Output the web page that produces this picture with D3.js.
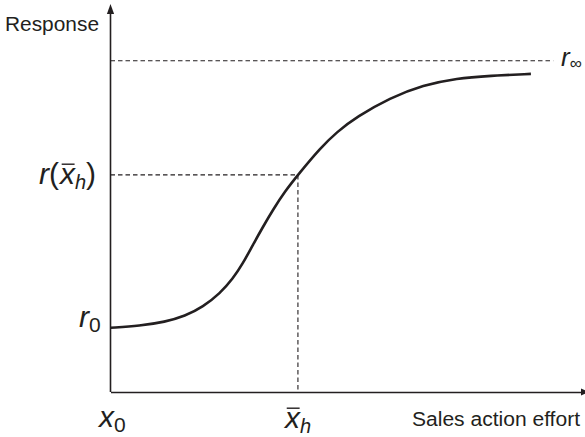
<!DOCTYPE html>
<html>
<head>
<meta charset="utf-8">
<script src="https://cdn.jsdelivr.net/npm/d3@7"></script>
<style>
  html, body { margin: 0; padding: 0; background: #fff; }
  svg { display: block; }
  text { font-family: "Liberation Sans", Arial, Helvetica, sans-serif; fill: #231f20; }
</style>
</head>
<body>
<svg id="chart" width="585" height="437"></svg>
<script>
// ---- data ----
const effort   = [0, 0.62, 1.15, 1.57, 1.95, 2.31, 2.58, 2.79, 3.00, 3.21, 3.42, 3.68, 3.95, 4.42, 4.77, 5.19, 5.89, 6.59, 7.30, 8.00, 8.86];
const response = [1.66, 1.71, 1.81, 1.96, 2.20, 2.55, 2.93, 3.32, 3.80, 4.26, 4.70, 5.19, 5.61, 6.30, 6.72, 7.11, 7.60, 7.93, 8.11, 8.17, 8.22];
const x0 = 0;          // starting effort
const xh = 3.95;       // half-response effort
const r0 = 1.66;       // base response
const rXh = 5.61;      // response at xh
const rInf = 8.56;     // saturation response
const rInfLineEnd = 9.33;
const axisTitles = ["Response", "Sales action effort"];

// ---- scales ----
const svg = d3.select("#chart");
const ink = "#231f20";
const x = d3.scaleLinear().domain([0, 10]).range([110.5, 585]);
const y = d3.scaleLinear().domain([0, 10]).range([392, 5]);

// ---- axes (no ticks) ----
const xAxis = svg.append("g").attr("transform", `translate(0,${y(0)})`)
  .call(d3.axisBottom(x).tickValues([]).tickSizeOuter(0));
const yAxis = svg.append("g").attr("transform", `translate(${x(0)},0)`)
  .call(d3.axisLeft(y).tickValues([]).tickSizeOuter(0));
svg.selectAll(".domain").attr("stroke", ink).attr("stroke-width", 1.6);
yAxis.select(".domain").attr("d", `M0,${y(0)}V12`);
// arrow heads
svg.append("path").attr("d", `M${x(0)},4 L${x(0)-3.6},14 L${x(0)+3.6},14 Z`).attr("fill", ink);
svg.append("path").attr("d", `M589,${y(0)} L581,${y(0)-3.6} L581,${y(0)+3.6} Z`).attr("fill", ink);

// ---- dashed reference lines ----
const dash = "4.5,3";
function dashed(x1, y1, x2, y2) {
  svg.append("line").attr("x1", x1).attr("x2", x2).attr("y1", y1).attr("y2", y2)
    .attr("stroke", ink).attr("stroke-width", 1.1).attr("stroke-dasharray", dash);
}
dashed(x(0), y(rInf), x(rInfLineEnd), y(rInf));
dashed(x(0), y(rXh), x(xh), y(rXh));
dashed(x(xh), y(rXh), x(xh), y(0));

// ---- curve ----
const pts = effort.map((e, i) => [e, response[i]]);
svg.append("path").datum(pts)
  .attr("d", d3.line().x(d => x(d[0])).y(d => y(d[1])).curve(d3.curveBasis))
  .attr("fill", "none").attr("stroke", ink).attr("stroke-width", 2.6).attr("stroke-linecap", "butt");

// ---- axis titles ----
svg.append("text").attr("x", 5).attr("y", 31).attr("font-size", 19.5)
  .attr("textLength", 94).attr("lengthAdjust", "spacingAndGlyphs").text(axisTitles[0]);
svg.append("text").attr("x", 412).attr("y", 426).attr("font-size", 19.5)
  .attr("textLength", 168).attr("lengthAdjust", "spacingAndGlyphs").text(axisTitles[1]);

// ---- math labels ----
function mathLabel(px, py, parts, anchorRight) {
  const g = svg.append("g");
  let cx = 0;
  parts.forEach(p => {
    const t = g.append("text").attr("x", cx).attr("y", p.dy || 0)
      .attr("font-size", p.size).attr("font-style", p.italic === false ? "normal" : "italic")
      .text(p.t);
    const w = t.node().getComputedTextLength();
    if (p.over) {
      g.append("line").attr("x1", cx + w * 0.12).attr("x2", cx + w * 0.98)
        .attr("y1", -p.size * 0.66).attr("y2", -p.size * 0.66)
        .attr("stroke", ink).attr("stroke-width", 1.4);
    }
    cx += w + (p.gap || 0);
  });
  const ox = anchorRight ? px - cx : px;
  g.attr("transform", `translate(${ox},${py})`);
  return g;
}
// r(x̄h)
mathLabel(96, 184, [
  {t: "r", size: 30}, {t: "(", size: 30, italic: false, gap: 1},
  {t: "x", size: 30, over: true}, {t: "h", size: 20, dy: 5},
  {t: ")", size: 30, italic: false}
], true);
// r0
mathLabel(79, 327, [{t: "r", size: 30}, {t: "0", size: 21, dy: 5, italic: false}], false);
// x0
mathLabel(99, 427, [{t: "x", size: 30}, {t: "0", size: 21, dy: 5, italic: false}], false);
// x̄h
mathLabel(x(xh) - 13, 428, [{t: "x", size: 30, over: true}, {t: "h", size: 20, dy: 5}], false);
// r∞
mathLabel(561, 66, [{t: "r", size: 26, gap: 0}, {t: "∞", size: 17, dy: 3, italic: false}], false);
</script>
</body>
</html>
